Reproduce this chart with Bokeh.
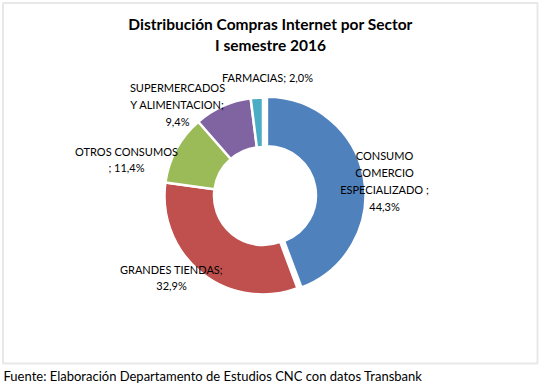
import math
from bokeh.plotting import figure
from bokeh.models import Range1d, ColumnDataSource, BoxAnnotation
from bokeh.core.properties import value
from bokeh.embed import file_html
from bokeh.resources import INLINE

# ---- data ----
title_lines = ["Distribución Compras Internet por Sector", "I semestre 2016"]
sectors = ["CONSUMO\nCOMERCIO\nESPECIALIZADO", "GRANDES TIENDAS", "OTROS CONSUMOS",
           "SUPERMERCADOS\nY ALIMENTACION", "FARMACIAS"]
shares = [44.3, 32.9, 11.4, 9.4, 2.0]
separators = [" ;\n", ";\n", "\n; ", ";\n", "; "]
colors = ["#4F81BD", "#C0504D", "#9BBB59", "#8064A2", "#4BACC6"]
source_note = "Fuente: Elaboración Departamento de Estudios CNC con datos Transbank"

# ---- layout (reference pixel space, y measured from top) ----
W, H = 541, 386
def Y(y):
    return H - y

cx, cy = 262.5, 195.5
r_out, r_in = 98.5, 49.0
explode = [4.0, 0, 0, 0, 0]
label_pos = [(384, 180.5), (171, 277), (126, 159), (177, 104), (267, 77)]

p = figure(width=541, height=386, output_backend="svg", toolbar_location=None,
           x_range=Range1d(0, W), y_range=Range1d(0, H), min_border=0)
p.axis.visible = False
p.grid.visible = False
p.outline_line_color = None
p.background_fill_color = "white"

p.add_layout(BoxAnnotation(left=2.5, right=537, bottom=Y(363), top=Y(2.5),
                           fill_alpha=0, line_color="#B4B4B4", line_width=2))

total = sum(shares)
xs, ys, starts, ends = [], [], [], []
cum = 0.0
for s, e in zip(shares, explode):
    a0 = math.pi / 2 - 2 * math.pi * cum / total
    a1 = math.pi / 2 - 2 * math.pi * (cum + s) / total
    mid = (a0 + a1) / 2
    xs.append(cx + e * math.cos(mid))
    ys.append(Y(cy) + e * math.sin(mid))
    starts.append(a0)
    ends.append(a1)
    cum += s

src = ColumnDataSource(dict(x=xs, y=ys, start=starts, end=ends, color=colors))
p.annular_wedge(x="x", y="y", inner_radius=r_in, outer_radius=r_out,
                start_angle="start", end_angle="end", direction="clock",
                fill_color="color", line_color="white", line_width=2.5, source=src)

labels = [n + sep + f"{v:.1f}".replace(".", ",") + "%" for n, sep, v in zip(sectors, separators, shares)]
lsrc = ColumnDataSource(dict(x=[lp[0] for lp in label_pos], y=[Y(lp[1]) for lp in label_pos], t=labels))
p.text(x="x", y="y", text="t", source=lsrc, text_align="center", text_baseline="middle",
       text_font=value("Lato"), text_font_size="11px", text_color="#000000",
       text_line_height=1.3)

p.text(x=[270, 270], y=[Y(23), Y(44)], text=title_lines, text_align="center",
       text_baseline="middle", text_font=value("Lato"), text_font_size="15.5px",
       text_font_style="bold", text_color="#000000")

p.text(x=[3], y=[Y(375)], text=[source_note], text_align="left", text_baseline="middle",
       text_font=value("Lato"), text_font_size="13px", text_color="#000000")

open("out.html", "w").write(file_html(p, INLINE))
